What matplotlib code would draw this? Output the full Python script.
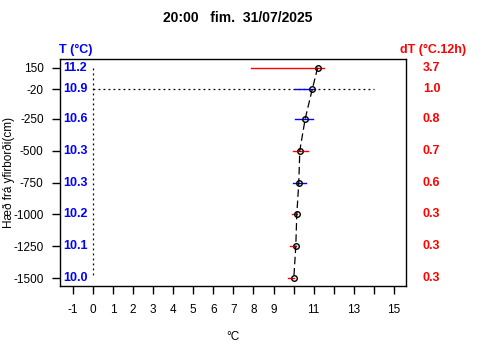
import matplotlib
matplotlib.use("Agg")
import matplotlib.pyplot as plt
import matplotlib.transforms as mtransforms

plt.rcParams['font.family'] = ['Liberation Sans', 'DejaVu Sans']

# data
depth = [150, -20, -250, -500, -750, -1000, -1250, -1500]
temp = [11.2, 10.93, 10.58, 10.31, 10.26, 10.16, 10.11, 10.01]
temp_labels = ['11.2', '10.9', '10.6', '10.3', '10.3', '10.2', '10.1', '10.0']
t_min = [7.86, 10.05, 10.05, 9.95, 9.95, 9.90, 9.80, 9.70]
t_max = [11.54, 11.09, 10.95, 10.70, 10.61, 10.18, 10.10, 10.00]
dt_labels = ['3.7', '1.0', '0.8', '0.7', '0.6', '0.3', '0.3', '0.3']
trend = ['up', 'down', 'down', 'up', 'down', 'up', 'up', 'up']
x_ticks = list(range(-1, 16))
x_ticklabels = [str(v) if v not in (10, 12, 14) else '' for v in x_ticks]
surface_level = -20
title = "20:00   fim.  31/07/2025"

trend_color = {'up': '#FF0000', 'down': '#0000FF'}

fig = plt.figure(figsize=(4.8, 3.6), dpi=100)
ax = fig.add_axes([59.7 / 480, 1 - 286 / 360, 346.3 / 480, 226.7 / 360])

# reference lines
ax.plot([0, 0], [depth[0], depth[-1]], color='black', lw=0.9, linestyle=(0, (1.5, 2.5)))
ax.plot([0, 14], [surface_level, surface_level], color='black', lw=0.9, linestyle=(0, (1.5, 2.5)))

# min-max range bars
for y, lo, hi, tr in zip(depth, t_min, t_max, trend):
    ax.plot([lo, hi], [y, y], color=trend_color[tr], lw=1)

# profile
ax.plot(temp, depth, color='black', lw=0.9, linestyle=(0, (6, 3)))
ax.plot(temp, depth, 'o', mfc='none', mec='black', ms=4, mew=1)

ax.set_xlim(-1.65, 15.6)
ax.set_ylim(-1560, 215)
ax.set_xticks(x_ticks)
ax.set_xticklabels(x_ticklabels)
ax.set_yticks(depth)
ax.set_yticklabels([str(d) for d in depth])
ax.tick_params(axis='both', direction='out', length=6, width=1, labelsize=8.5)
ax.tick_params(axis='x', pad=7)
ax.tick_params(axis='y', pad=5.5)
for s in ax.spines.values():
    s.set_linewidth(1)

trans = mtransforms.blended_transform_factory(ax.transAxes, ax.transData)
for y, lab in zip(depth, temp_labels):
    ax.text(0.01, y, lab, transform=trans, color='#0000FF', fontsize=9,
            fontweight='bold', ha='left', va='center')
for y, lab in zip(depth, dt_labels):
    ax.text(1.049, y, lab, transform=trans, color='#FF0000', fontsize=9,
            fontweight='bold', ha='left', va='center', clip_on=False)

fig.text(59 / 480, 1 - 50 / 360, 'T (°C)', color='#0000FF', fontsize=9,
         fontweight='bold', ha='left', va='center')
fig.text(400 / 480, 1 - 50 / 360, 'dT (°C.12h)', color='#FF0000', fontsize=9,
         fontweight='bold', ha='left', va='center')
fig.text(238 / 480, 1 - 18 / 360, title, fontsize=10, fontweight='bold',
         ha='center', va='center')
fig.text(9 / 480, 1 - 172 / 360, 'Hæð frá yfirborði(cm)', fontsize=8.5,
         rotation=90, ha='center', va='center')
fig.text(233 / 480, 1 - 337 / 360, '°C', fontsize=8.5, ha='center', va='center')

fig.savefig('out.png', dpi=100)
